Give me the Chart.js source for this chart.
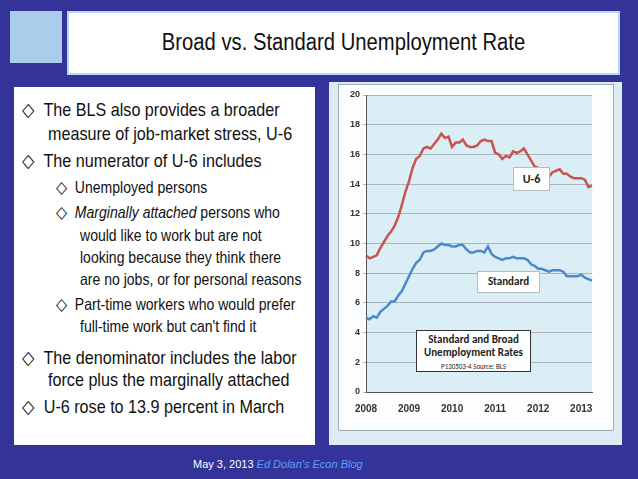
<!DOCTYPE html>
<html>
<head>
<meta charset="utf-8">
<script src="https://cdn.jsdelivr.net/npm/chart.js@4"></script>
<style>
body { margin:0; width:638px; height:479px; background:#333399; position:relative; overflow:hidden;
  font-family:"Liberation Sans",Arial,sans-serif; }
.abs { position:absolute; }
#icon { left:10px; top:11px; width:52px; height:52px; background:#a9cdeb; }
#title { left:67px; top:11px; width:553px; height:64px; background:#fff; border:2px solid #b9d7ee; box-sizing:border-box; }
#title span { position:absolute; left:0; width:100%; text-align:center; top:16px; font-size:23px; color:#111; transform:scaleX(0.88); }
#left { left:14px; top:87px; width:301px; height:358px; background:#fff; }
#right { left:329px; top:82px; width:293px; height:363px; background:#dcebf5; }
.l { position:absolute; font-size:19px; color:#111; white-space:nowrap; transform:scaleX(0.85); transform-origin:left top; }
.s { font-size:16.5px; }
#chartbox { left:338px; top:84px; width:276px; height:347px; background:#fbfdfe; border:1px solid #9aa; box-sizing:border-box; }
.tag { position:absolute; background:#fff; border:1px solid #bbb; font-family:Calibri,"Carlito","Liberation Sans",sans-serif;
  font-weight:bold; font-size:11px; text-align:center; color:#222; }
#foot { left:193px; top:458px; white-space:nowrap; font-size:11px; color:#fff; }
</style>
</head>
<body>
<div id="icon" class="abs"></div>
<div id="title" class="abs"><span>Broad vs. Standard Unemployment Rate</span></div>
<div id="left" class="abs"></div>
<div id="right" class="abs"></div>
<div class="l" style="left:22px;top:98px">&#9671;&nbsp; The BLS also provides a broader</div>
<div class="l" style="left:48px;top:123px">measure of job-market stress, U-6</div>
<div class="l" style="left:22px;top:149px">&#9671;&nbsp; The numerator of U-6 includes</div>
<div class="l s" style="left:56px;top:178px">&#9671;&nbsp; Unemployed persons</div>
<div class="l s" style="left:56px;top:203px">&#9671;&nbsp; <i>Marginally attached</i> persons who</div>
<div class="l s" style="left:80px;top:226px">would like to work but are not</div>
<div class="l s" style="left:80px;top:248px">looking because they think there</div>
<div class="l s" style="left:80px;top:270px">are no jobs, or for personal reasons</div>
<div class="l s" style="left:56px;top:295px">&#9671;&nbsp; Part-time workers who would prefer</div>
<div class="l s" style="left:80px;top:317px">full-time work but can't find it</div>
<div class="l" style="left:22px;top:346px">&#9671;&nbsp; The denominator includes the labor</div>
<div class="l" style="left:48px;top:369px">force plus the marginally attached</div>
<div class="l" style="left:22px;top:395px">&#9671;&nbsp; U-6 rose to 13.9 percent in March</div>
<div id="chartbox" class="abs"><canvas id="c" width="274" height="345"></canvas></div>
<div class="tag" style="left:513px;top:167px;width:35px;height:22px;line-height:22px;font-size:12px">U-6</div>
<div class="tag" style="left:477px;top:271px;width:61px;height:20px;line-height:20px">Standard</div>
<div class="tag" style="left:416px;top:330px;width:115px;height:42px;border:1px solid #333;line-height:13px;padding-top:2px;box-sizing:border-box">Standard and Broad<br>Unemployment Rates<br><span style="font-weight:normal;font-size:7px">P130503-4 Source: BLS</span></div>
<div id="foot" class="abs">May 3, 2013 <i style="color:#5aa0ff">Ed Dolan's Econ Blog</i></div>
<script>
const years = ['2008', '2009', '2010', '2011', '2012', '2013'];
const months = [];
years.forEach(y => { for (let m = 1; m <= 12; m++) months.push(y + '-' + m); });
months.length = 64; // Jan 2008 .. Apr 2013

const u6 = [9.2, 9.0, 9.1, 9.2, 9.7, 10.1, 10.5, 10.8, 11.2, 11.8, 12.6, 13.5,
  14.2, 15.1, 15.7, 15.9, 16.4, 16.5, 16.4, 16.7, 17.0, 17.4, 17.1, 17.2,
  16.5, 16.8, 16.8, 17.0, 16.6, 16.5, 16.5, 16.6, 16.9, 17.0, 16.9, 16.9,
  16.1, 16.0, 15.7, 15.9, 15.8, 16.2, 16.1, 16.2, 16.4, 16.0, 15.6, 15.2,
  15.1, 14.9, 14.5, 14.5, 14.8, 14.9, 15.0, 14.7, 14.7, 14.5, 14.4, 14.4,
  14.4, 14.3, 13.8, 13.9];
const standard = [5.0, 4.9, 5.1, 5.0, 5.4, 5.6, 5.8, 6.1, 6.1, 6.5, 6.8, 7.3,
  7.8, 8.3, 8.7, 8.9, 9.4, 9.5, 9.5, 9.6, 9.8, 10.0, 9.9, 9.9,
  9.8, 9.8, 9.9, 9.9, 9.6, 9.4, 9.4, 9.5, 9.5, 9.4, 9.8, 9.3,
  9.1, 9.0, 8.9, 9.0, 9.0, 9.1, 9.0, 9.0, 9.0, 8.9, 8.6, 8.5,
  8.3, 8.3, 8.2, 8.1, 8.2, 8.2, 8.2, 8.1, 7.8, 7.8, 7.8, 7.8,
  7.9, 7.7, 7.6, 7.5];

const plotBg = {
  id: 'plotBg',
  beforeDraw(chart) {
    const a = chart.chartArea, c = chart.ctx;
    c.save(); c.fillStyle = '#dbeef5'; c.fillRect(a.left, a.top, a.right - a.left, a.bottom - a.top); c.restore();
  }
};

new Chart(document.getElementById('c'), {
  type: 'line',
  data: {
    labels: months,
    datasets: [
      { label: 'U-6', data: u6, borderColor: '#c9544f', borderWidth: 2.5, pointRadius: 0, tension: 0 },
      { label: 'Standard', data: standard, borderColor: '#4a8acb', borderWidth: 2.5, pointRadius: 0, tension: 0 }
    ]
  },
  options: {
    responsive: false,
    animation: false,
    layout: { padding: { top: 10, right: 21, left: 0, bottom: 0 } },
    plugins: { legend: { display: false }, tooltip: { enabled: false } },
    scales: {
      x: {
        offset: false,
        grid: { display: false },
        border: { color: '#555' },
        afterFit: s => { s.height = 38; },
        ticks: {
          autoSkip: false, maxRotation: 0, color: '#333', font: { size: 10, weight: 'bold' },
          callback: (v, i) => months[i].endsWith('-1') ? months[i].slice(0, 4) : null
        }
      },
      y: {
        min: 0, max: 20,
        afterFit: s => { s.width = 27; },
        grid: { color: '#a9b4bb', drawTicks: true, tickLength: 3 },
        border: { color: '#555' },
        ticks: { stepSize: 2, color: '#333', font: { size: 9, weight: 'bold' } }
      }
    }
  },
  plugins: [plotBg]
});
</script>
</body>
</html>
